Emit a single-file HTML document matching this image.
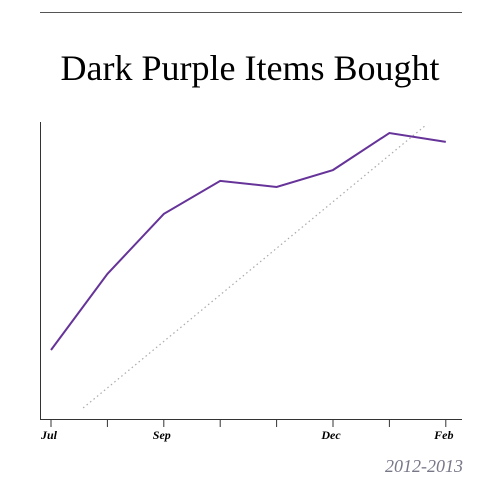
<!DOCTYPE html>
<html><head><meta charset="utf-8"><style>
body{margin:0;background:#fff;width:500px;height:500px;overflow:hidden}
svg{display:block}
</style></head><body>
<svg width="500" height="500" xmlns="http://www.w3.org/2000/svg">
<line x1="40" y1="12.5" x2="462" y2="12.5" stroke="#555" stroke-width="1"/>
<text x="250" y="80" text-anchor="middle" font-family="Liberation Serif, serif" font-size="36" fill="#000">Dark Purple Items Bought</text>
<line x1="40.5" y1="122" x2="40.5" y2="420" stroke="#333"/>
<line x1="40" y1="419.5" x2="462" y2="419.5" stroke="#333"/>
<g id="ticks"></g>
<line id="trend" stroke="#aaa" stroke-width="1.2" stroke-dasharray="1.5,3"/>
<polyline id="series" fill="none" stroke="#663399" stroke-width="2"/>
<text x="463" y="472" text-anchor="end" font-family="Liberation Serif, serif" font-style="italic" font-size="18" fill="#777788">2012-2013</text>
</svg>
<script>
const months=["Jul","Aug","Sep","Oct","Nov","Dec","Jan","Feb"];
const tickLabels=["Jul","","Sep","","","Dec","","Feb"];
const values=[24.4,50.9,71.8,83.3,81.2,87.1,100,96.9];
const trendStart=[0.57,4.2];
const trendEnd=[6.65,102.8];
const x=i=>51+i*56.4;
const y=v=>420-v*2.87;
const ns="http://www.w3.org/2000/svg";
const g=document.getElementById('ticks');
months.forEach((m,i)=>{
 const t=document.createElementNS(ns,'line');
 t.setAttribute('x1',x(i));t.setAttribute('x2',x(i));t.setAttribute('y1',420);t.setAttribute('y2',427);
 t.setAttribute('stroke','#333');
 
 
 g.appendChild(t);
 if(tickLabels[i]){
  const l=document.createElementNS(ns,'text');
  l.setAttribute('x',x(i)-2);l.setAttribute('y',439);l.setAttribute('text-anchor','middle');
  l.setAttribute('font-family','Liberation Serif, serif');l.setAttribute('font-size','12');
  l.setAttribute('font-weight','bold');l.setAttribute('font-style','italic');
  l.textContent=tickLabels[i];
  
  
  g.appendChild(l);
 }
});
document.getElementById('series').setAttribute('points',values.map((v,i)=>x(i)+','+y(v)).join(' '));
const tr=document.getElementById('trend');
tr.setAttribute('x1',x(trendStart[0]));tr.setAttribute('y1',y(trendStart[1]));
tr.setAttribute('x2',x(trendEnd[0]));tr.setAttribute('y2',y(trendEnd[1]));
</script>
</body></html>
